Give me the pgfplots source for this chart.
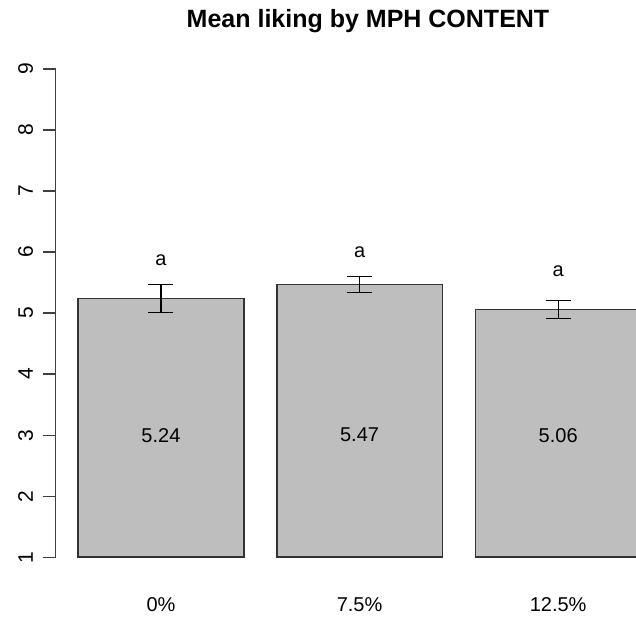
\documentclass[border=0pt]{standalone}
\usepackage{fontspec}
\setmainfont{Liberation Sans}
\usepackage{pgfplots}
\usepackage{pgfplotstable}
\pgfplotsset{compat=1.18}
\definecolor{barfill}{RGB}{190,190,190}
\pgfplotstableread{
x mean se ylab ly lab
0.7 5.24 0.23 3 5.87 a
1.9 5.47 0.13 3 5.99 a
3.1 5.06 0.15 3 5.69 a
}\data
\begin{document}
\begin{tikzpicture}
\useasboundingbox (0,0) rectangle (636bp,621bp);
\clip (0,0) rectangle (636bp,621bp);
\begin{axis}[
 at={(55.7bp,44.2bp)}, anchor=south west,
 scale only axis, x=165.5bp, y=61.04bp,
 xmin=0.064, xmax=3.736, ymin=-0.32, ymax=8.32,
 axis lines*=left, axis line style={draw=none},
 clip=false,
 font=\fontsize{20bp}{24bp}\selectfont,
 xtick={0.7,1.9,3.1}, xticklabels={0\%,7.5\%,12.5\%},
 xtick style={draw=none},
 xticklabel style={anchor=base, inner sep=0pt, yshift=-22bp, font=\fontsize{20bp}{24bp}\selectfont},
 ytick={0,...,8},
 yticklabels={{\fontsize{21bp}{24bp}\selectfont 1},{\fontsize{21bp}{24bp}\selectfont 2},{\fontsize{21bp}{24bp}\selectfont 3},{\fontsize{21bp}{24bp}\selectfont 4},{\fontsize{21bp}{24bp}\selectfont 5},{\fontsize{21bp}{24bp}\selectfont 6},{\fontsize{21bp}{24bp}\selectfont 7},{\fontsize{21bp}{24bp}\selectfont 8},{\fontsize{21bp}{24bp}\selectfont 9}},
 ytick style={draw=black!75, line width=1.3bp},
 tick align=outside, major tick length=12.7bp,
 yticklabel style={xshift=-10bp, rotate=90, anchor=base, inner sep=0pt},
 /pgf/number format/assume math mode=true,
]
\draw[black!75, line width=1.3bp] (axis cs:0.064,0) -- (axis cs:0.064,8);
\addplot[ybar, bar width=165.5bp, bar shift=0pt, fill=barfill, draw=black!80, line width=1.6bp,
  error bars/.cd, y dir=both, y explicit, error mark=|,
  error bar style={line width=1.3bp, black},
  error mark options={line width=1.3bp, mark size=12.5bp, black}]
  table[x=x, y expr=\thisrow{mean}-1, y error=se]{\data};
\addplot[only marks, mark=none, point meta=explicit symbolic, nodes near coords,
  nodes near coords style={anchor=center, inner sep=0pt, font=\fontsize{20bp}{24bp}\selectfont}]
  table[x=x, y expr=\thisrow{ylab}-1, meta=mean]{\data};
\addplot[only marks, mark=none, point meta=explicit symbolic, nodes near coords,
  nodes near coords style={anchor=center, inner sep=0pt, font=\fontsize{20bp}{24bp}\selectfont}]
  table[x=x, y expr=\thisrow{ly}-1, meta=lab]{\data};
\end{axis}
\node[font=\bfseries\fontsize{25bp}{30bp}\selectfont, anchor=base] at (368bp,593bp) {Mean liking by MPH CONTENT};
\end{tikzpicture}
\end{document}
